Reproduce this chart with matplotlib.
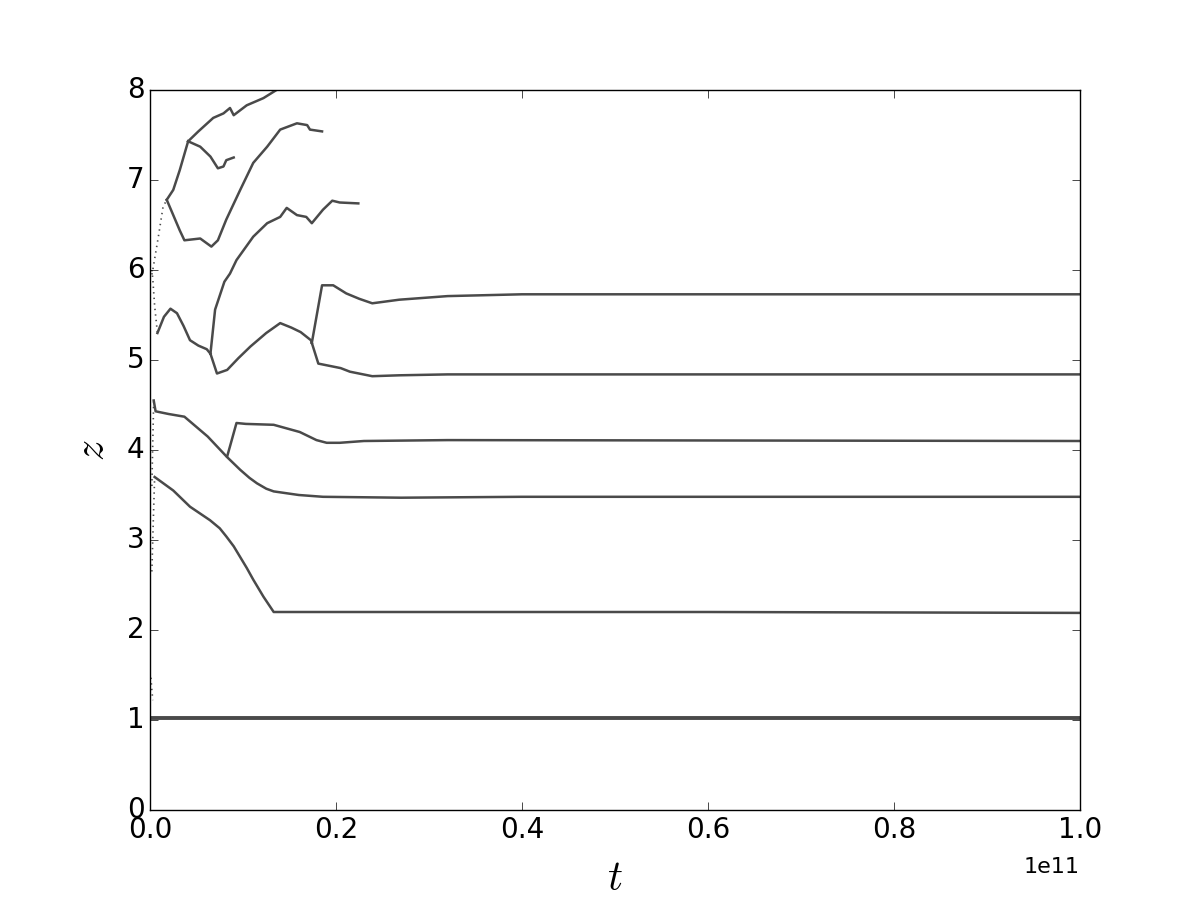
import matplotlib
matplotlib.use("Agg")
import matplotlib.pyplot as plt

# t in units of 1e10, z values
# ─── bottom track (z ~ 1) ─────────────────────────────
t_one = [0.0, 2.0, 5.0, 8.0, 10.0]
z_one = [1.02, 1.02, 1.02, 1.02, 1.02]
t_one_early = [0.01, 0.02, 0.03]
z_one_early = [1.47, 1.33, 1.22]

# ─── track ending at 2.2 ──────────────────────────────
t_b = [0.05, 0.25, 0.43, 0.645, 0.75, 0.82, 0.90, 0.97, 1.04, 1.11, 1.22, 1.33, 3.0, 6.0, 10.0]
z_b = [3.70, 3.55, 3.37, 3.22, 3.13, 3.04, 2.93, 2.81, 2.69, 2.56, 2.37, 2.20, 2.20, 2.20, 2.19]
t_b_early = [0.02, 0.035, 0.05]
z_b_early = [2.65, 3.20, 3.70]

# ─── track ending at 3.48 ─────────────────────────────
t_c = [0.04, 0.06, 0.2, 0.37, 0.62, 0.83, 0.97, 1.07, 1.15, 1.25, 1.33, 1.60, 1.86, 2.7, 4.0, 10.0]
z_c = [4.55, 4.43, 4.40, 4.37, 4.15, 3.92, 3.78, 3.69, 3.63, 3.57, 3.54, 3.50, 3.48, 3.47, 3.48, 3.48]
t_c_early = [0.02, 0.03, 0.04]
z_c_early = [3.60, 4.10, 4.55]

# ─── track ending at 4.1 (branches off c) ─────────────
t_d = [0.83, 0.86, 0.93, 1.03, 1.33, 1.61, 1.79, 1.90, 2.04, 2.3, 3.2, 10.0]
z_d = [3.93, 4.04, 4.30, 4.29, 4.28, 4.20, 4.11, 4.08, 4.08, 4.10, 4.11, 4.10]

# ─── the 5.5 hump, before first split ─────────────────
t_e0 = [0.08, 0.15, 0.22, 0.29, 0.36, 0.43, 0.52, 0.61, 0.65]
z_e0 = [5.30, 5.48, 5.57, 5.52, 5.38, 5.22, 5.16, 5.12, 5.07]
t_e0_early = [0.02, 0.03, 0.05, 0.08]
z_e0_early = [6.00, 5.90, 5.60, 5.30]

# lower branch of the split, up to second split
t_e1 = [0.65, 0.72, 0.83, 0.95, 1.08, 1.25, 1.40, 1.52, 1.62, 1.73, 1.74]
z_e1 = [5.07, 4.85, 4.89, 5.02, 5.15, 5.30, 5.41, 5.36, 5.31, 5.22, 5.19]

# ─── after second split: ends at 5.73 ────────────────
t_f = [1.74, 1.85, 1.97, 2.11, 2.25, 2.39, 2.68, 3.2, 4.0, 10.0]
z_f = [5.19, 5.83, 5.83, 5.74, 5.68, 5.63, 5.67, 5.71, 5.73, 5.73]

# ─── after second split: ends at 4.84 ────────────────
t_e2 = [1.74, 1.81, 2.05, 2.15, 2.39, 2.68, 3.2, 10.0]
z_e2 = [5.19, 4.96, 4.91, 4.87, 4.82, 4.83, 4.84, 4.84]

# ─── upper branch of first split, ends at 6.75 ───────
t_g = [0.65, 0.70, 0.80, 0.86, 0.93, 1.11, 1.26, 1.40, 1.47, 1.58, 1.68, 1.74, 1.86, 1.96, 2.04, 2.24]
z_g = [5.07, 5.56, 5.87, 5.96, 6.11, 6.37, 6.52, 6.59, 6.69, 6.61, 6.59, 6.52, 6.67, 6.77, 6.75, 6.74]

# ─── particle rising from 6.0 to the 6.78 junction ───
t_h0 = [0.02, 0.03, 0.09, 0.14, 0.18]
z_h0 = [5.95, 6.00, 6.37, 6.70, 6.78]

# lower branch of the 6.78 junction, ends at 7.54
t_i = [0.18, 0.32, 0.37, 0.54, 0.66, 0.73, 0.82, 0.97, 1.11, 1.26, 1.40, 1.58, 1.69, 1.72, 1.85]
z_i = [6.78, 6.44, 6.33, 6.35, 6.26, 6.33, 6.56, 6.89, 7.19, 7.37, 7.56, 7.63, 7.61, 7.56, 7.54]

# upper branch of the 6.78 junction, up to 7.43
t_j0 = [0.18, 0.25, 0.32, 0.41]
z_j0 = [6.78, 6.89, 7.11, 7.43]

# from 7.43: one continues to the top
t_j1 = [0.41, 0.52, 0.68, 0.79, 0.86, 0.90, 1.04, 1.22, 1.36]
z_j1 = [7.43, 7.54, 7.69, 7.74, 7.80, 7.72, 7.83, 7.91, 8.00]

# from 7.43: the other dips and ends at 7.25
t_j2 = [0.41, 0.54, 0.65, 0.73, 0.79, 0.82, 0.90]
z_j2 = [7.43, 7.37, 7.26, 7.13, 7.15, 7.22, 7.25]

COLOR = "#4a4a4a"

plt.style.use("classic")
fig, ax = plt.subplots(figsize=(12, 9), dpi=100)
fig.patch.set_facecolor("white")

solid = [(t_one, z_one), (t_b, z_b), (t_c, z_c), (t_d, z_d), (t_e0, z_e0),
         (t_e1, z_e1), (t_f, z_f), (t_e2, z_e2), (t_g, z_g), (t_i, z_i),
         (t_j0, z_j0), (t_j1, z_j1), (t_j2, z_j2)]
for t, z in solid:
    lw = 2.8 if t is t_one else 1.8
    ax.plot([v * 1e10 for v in t], z, color=COLOR, linewidth=lw)

dotted = [(t_one_early, z_one_early), (t_b_early, z_b_early), (t_c_early, z_c_early),
          (t_e0_early, z_e0_early), (t_h0, z_h0)]
for t, z in dotted:
    ax.plot([v * 1e10 for v in t], z, color=COLOR, linewidth=1.2, linestyle=":")

ax.set_xlim(0, 1e11)
ax.set_ylim(0, 8)
ax.set_xlabel("$t$", fontsize=30, labelpad=10)
ax.set_ylabel("$z$", fontsize=30, labelpad=10)
ax.tick_params(labelsize=20, direction="in", length=6, top=True, right=True)
ax.xaxis.get_offset_text().set_fontsize(16)
ax.xaxis.OFFSETTEXTPAD = 10

fig.savefig("out.png", dpi=100, facecolor="white")
